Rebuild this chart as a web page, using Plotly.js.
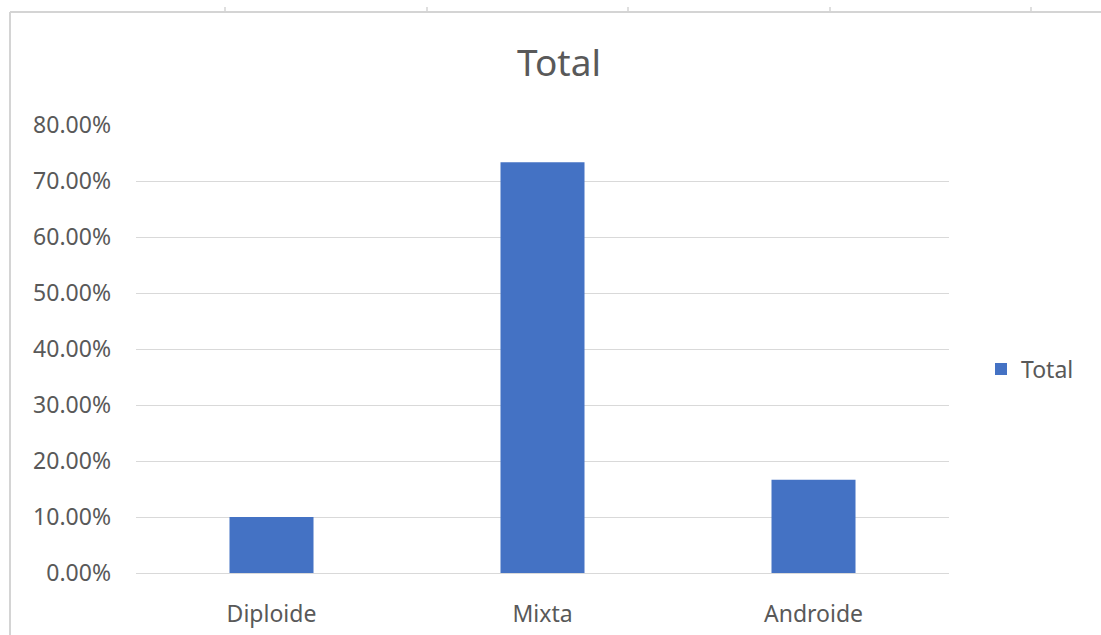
<!DOCTYPE html>
<html>
<head>
<meta charset="utf-8">
<script src="https://cdn.plot.ly/plotly-3.0.1.min.js"></script>
<style>
  html, body { margin: 0; padding: 0; background: #ffffff; }
  #chart { width: 1101px; height: 635px; }
</style>
</head>
<body>
<div id="chart"></div>
<script>
// Share of each category
const categories = ['Diploide', 'Mixta', 'Androide'];
const totals = [0.10, 0.7333, 0.1667];
const yTicks = [0, 0.1, 0.2, 0.3, 0.4, 0.5, 0.6, 0.7, 0.8];

const W = 1101, H = 635;
const M = { l: 136, r: 152, t: 125, b: 62 };
const plotW = W - M.l - M.r, plotH = H - M.t - M.b;
// pixel -> paper helpers for the sheet frame drawn around the chart
const px = x => (x - M.l) / plotW;
const py = y => (H - M.b - y) / plotH;

const textColor = '#595959';
const gridColor = '#d9d9d9';
const frameColor = '#d4d4d4';

const frameShapes = [
  { type: 'line', xref: 'paper', yref: 'paper', x0: px(10), x1: px(1101), y0: py(12), y1: py(12),
    line: { color: frameColor, width: 2 } },
  { type: 'line', xref: 'paper', yref: 'paper', x0: px(10), x1: px(10), y0: py(12), y1: py(635),
    line: { color: frameColor, width: 2 } }
];
[225, 427, 628, 830, 1031].forEach(x => {
  frameShapes.push({ type: 'line', xref: 'paper', yref: 'paper', x0: px(x), x1: px(x), y0: py(7), y1: py(12),
    line: { color: frameColor, width: 1.5 } });
});

const trace = {
  type: 'bar',
  name: 'Total',
  x: categories,
  y: totals,
  marker: { color: '#4472c4' },
  hoverinfo: 'x+y'
};

const layout = {
  width: W, height: H,
  margin: M,
  paper_bgcolor: '#ffffff',
  plot_bgcolor: '#ffffff',
  font: { family: 'Noto Sans, Open Sans, sans-serif', color: textColor, size: 23 },
  title: {
    text: 'Total',
    font: { size: 37, color: textColor, family: 'Noto Sans, Open Sans, sans-serif' },
    x: 559 / W, xanchor: 'center', xref: 'container',
    y: 1 - 63 / H, yanchor: 'middle'
  },
  bargap: 0.69,
  xaxis: {
    type: 'category',
    showgrid: false,
    showline: true,
    linecolor: gridColor,
    linewidth: 1,
    ticks: '',
    ticklabelstandoff: 20,
    tickfont: { size: 23, color: textColor }
  },
  yaxis: {
    range: [0, 0.8],
    tickvals: yTicks,
    tickformat: '.2%',
    showgrid: true,
    gridcolor: gridColor,
    gridwidth: 1,
    zeroline: false,
    showline: false,
    ticks: '',
    ticklabelstandoff: 24,
    tickfont: { size: 23, color: textColor }
  },
  showlegend: true,
  legend: {
    x: px(981), xanchor: 'left',
    y: py(369), yanchor: 'middle',
    font: { size: 23, color: textColor },
    itemwidth: 30,
    bgcolor: 'rgba(0,0,0,0)'
  },
  shapes: frameShapes
};

Plotly.newPlot('chart', [trace], layout, { displayModeBar: false, staticPlot: true });
</script>
</body>
</html>
